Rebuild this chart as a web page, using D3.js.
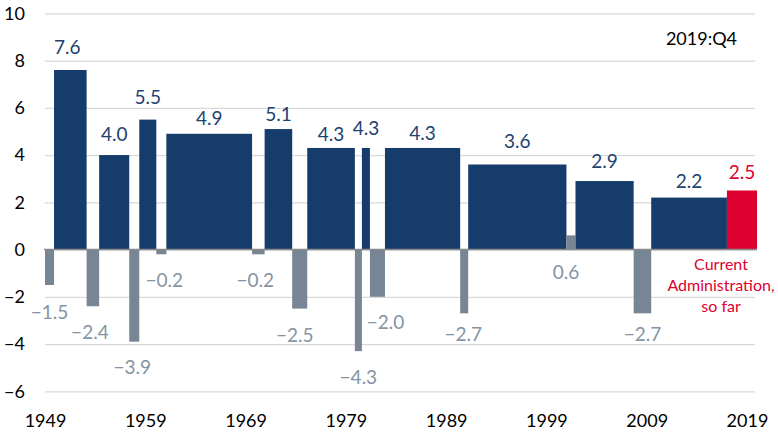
<!DOCTYPE html>
<html>
<head>
<meta charset="utf-8">
<script src="https://cdn.jsdelivr.net/npm/d3@7"></script>
<style>
  body { margin: 0; background: #fff; }
  svg { display: block; font-family: Lato, "Open Sans", sans-serif; }
</style>
</head>
<body>
<div id="wrapper"></div>
<script>
// period boundaries (decimal years), one more than the number of bars
const boundaries = [1949.0, 1949.9, 1953.15, 1954.4, 1957.4, 1958.4, 1960.1, 1961.1, 1969.65,
    1970.9, 1973.65, 1975.15, 1979.9, 1980.6, 1981.4, 1982.9, 1990.4, 1991.2, 2001.0,
    2001.9, 2007.7, 2009.45, 2017.0, 2020.0];
// average growth in each period
const growth = [-1.5, 7.6, -2.4, 4.0, -3.9, 5.5, -0.2, 4.9, -0.2, 5.1, -2.5, 4.3, -4.3, 4.3,
    -2.0, 4.3, -2.7, 3.6, 0.6, 2.9, -2.7, 2.2, 2.5];
// rec = recession, exp = expansion, cur = current administration
const periodType = ["rec", "exp", "rec", "exp", "rec", "exp", "rec", "exp", "rec", "exp", "rec",
    "exp", "rec", "exp", "rec", "exp", "rec", "exp", "rec", "exp", "rec", "exp", "cur"];
const xTicks = [1949, 1959, 1969, 1979, 1989, 1999, 2009, 2019];
const yTicks = [-6, -4, -2, 0, 2, 4, 6, 8, 10];
const noteLines = ["Current", "Administration,", "so far"];
const dateNote = "2019:Q4";

const colors = { exp: "#163c6c", rec: "#778594", cur: "#dd0031" };
const labelColors = { exp: "#1d426f", rec: "#8494a4", cur: "#dd0031" };

// label gap from bar end (px) and small horizontal nudges, by bar index
const labelGap = [34, 16, 33, 14, 32, 16, 33, 9, 33, 8, 33, 7, 33, 13, 32, 8, 28, 16.5, 29, 13, 28, 10, 11.5];
const labelDx = { 0: 0, 1: -3, 2: -3, 4: -2, 6: 3, 8: -3, 10: -5, 14: 8, 16: -1, 18: -5 };

const dimension = { width: 778, height: 433 };

const svg = d3.select("#wrapper").append("svg")
    .attr("width", dimension.width)
    .attr("height", dimension.height);

const xScaler = d3.scaleLinear().domain([1949, 2020]).range([45, 757]);
const yScaler = d3.scaleLinear().domain([-6, 10]).range([391.3, 13.3]);

// grid
const grid = svg.append("g")
    .attr("transform", "translate(45,0)")
    .call(d3.axisLeft(yScaler).tickValues(yTicks).tickSize(-(755 - 45)).tickFormat(""));
grid.select(".domain").remove();
grid.selectAll("line").attr("stroke", "#d9d9d9").attr("stroke-width", 1.3);

// y labels
const yAxis = svg.append("g")
    .attr("transform", "translate(45,0)")
    .call(d3.axisLeft(yScaler).tickValues(yTicks).tickSize(0).tickPadding(20));
yAxis.select(".domain").remove();
yAxis.selectAll("text").attr("font-size", 18).attr("fill", "#000").attr("font-family", "Lato");

// x labels
const xAxis = svg.append("g")
    .attr("transform", "translate(0,391)")
    .call(d3.axisBottom(xScaler).tickValues(xTicks).tickSize(0).tickPadding(23).tickFormat(d3.format("d")));
xAxis.select(".domain").remove();
xAxis.selectAll("text").attr("font-size", 18).attr("fill", "#000").attr("font-family", "Lato");

const bars = growth.map((v, i) => ({
    x0: boundaries[i], x1: boundaries[i + 1], v: v, type: periodType[i], i: i
}));

svg.append("g").selectAll("rect")
    .data(bars)
    .join("rect")
    .attr("x", d => xScaler(d.x0))
    .attr("width", d => xScaler(d.x1) - xScaler(d.x0))
    .attr("y", d => yScaler(Math.max(0, d.v)))
    .attr("height", d => Math.abs(yScaler(d.v) - yScaler(0)))
    .attr("fill", d => colors[d.type]);

// zero line
svg.append("line")
    .attr("x1", 44).attr("x2", 757)
    .attr("y1", yScaler(0)).attr("y2", yScaler(0))
    .attr("stroke", "#8a8a8a").attr("stroke-width", 1.6);

const fmt = d3.format(".1f");
svg.append("g").selectAll("text")
    .data(bars)
    .join("text")
    .attr("x", d => (xScaler(d.x0) + xScaler(d.x1)) / 2 + (labelDx[d.i] || 0))
    .attr("y", d => {
        if (d.type === "rec") {
            const bottom = yScaler(Math.min(0, d.v));
            return bottom + labelGap[d.i];
        }
        return yScaler(d.v) - labelGap[d.i];
    })
    .attr("text-anchor", "middle")
    .attr("font-size", 19)
    .attr("fill", d => labelColors[d.type])
    .text(d => fmt(d.v));

// note under current bar
const last = bars[bars.length - 1];
svg.append("text")
    .attr("x", 721)
    .attr("y", yScaler(0) + 20)
    .attr("text-anchor", "middle")
    .attr("font-size", 16)
    .attr("fill", colors.cur)
    .selectAll("tspan")
    .data(noteLines)
    .join("tspan")
    .attr("x", 721)
    .attr("dy", (d, i) => i === 0 ? 0 : 21)
    .text(d => d);

svg.append("text")
    .attr("x", 737)
    .attr("y", 45)
    .attr("text-anchor", "end")
    .attr("font-size", 18)
    .attr("fill", "#000")
    .text(dateNote);
</script>
</body>
</html>
